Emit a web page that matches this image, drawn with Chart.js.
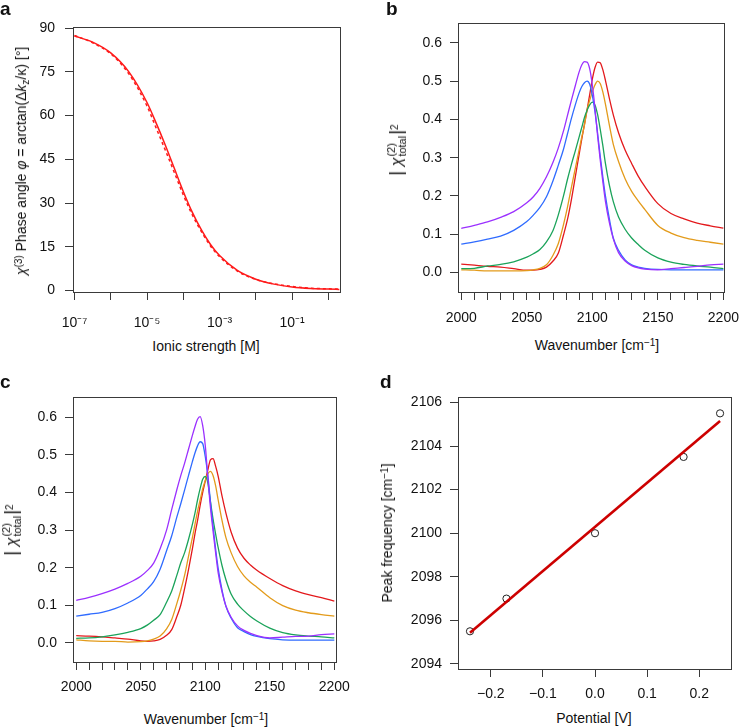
<!DOCTYPE html>
<html><head><meta charset="utf-8">
<script src="https://cdn.jsdelivr.net/npm/chart.js@4.4.1/dist/chart.umd.min.js"></script>
<style>
html,body{margin:0;padding:0;background:#fff}
#fig{position:relative;width:749px;height:727px;overflow:hidden;font-family:"Liberation Sans",Arial,Helvetica,sans-serif;color:#111}
#fig canvas{position:absolute}
.t{position:absolute;white-space:nowrap;font-size:14px;line-height:14px;transform:translate(-50%,-50%)}
.rot{transform:translate(-50%,-50%) rotate(-90deg)}
.p{position:absolute;font-weight:bold;font-size:19px;line-height:19px}
.t sup{font-size:10px;line-height:0;vertical-align:0.45em}
.t sub{font-size:10px;line-height:0;vertical-align:-0.3em}
.chi{font-size:16px}
.ss{display:inline-block;vertical-align:-0.35em;font-size:11px;line-height:11px;text-align:left;margin:0 1px}
.ss span{display:block}
.bar{font-size:19px}
</style></head><body>
<div id="fig">
<canvas id="ca" width="360" height="332" style="left:0px;top:0px"></canvas>
<canvas id="cb" width="369" height="332" style="left:380px;top:0px"></canvas>
<canvas id="cc" width="359" height="342" style="left:0px;top:360px"></canvas>
<canvas id="cd" width="369" height="349" style="left:380px;top:360px"></canvas>

<div class="p" style="left:0px;top:-1px">a</div>
<div class="p" style="left:386px;top:-1px">b</div>
<div class="p" style="left:0px;top:372px">c</div>
<div class="p" style="left:380px;top:372px">d</div>

<div class="t" style="left:206px;top:346px">Ionic strength [M]</div>
<div class="t" style="left:597px;top:345px">Wavenumber [cm<sup>−1</sup>]</div>
<div class="t" style="left:206px;top:719px">Wavenumber [cm<sup>−1</sup>]</div>
<div class="t" style="left:594px;top:718px">Potential [V]</div>

<div class="t rot" style="left:21px;top:161px"><i>χ</i><sup>(3)</sup> Phase angle <i>φ</i> = arctan(Δ<i>k</i><sub>z</sub>/κ) [°]</div>
<div class="t chi rot" style="left:397px;top:150px"><span class="bar">|</span> <i>χ</i><span class="ss"><span>(2)</span><span>total</span></span><span class="bar">|</span><sup>2</sup></div>
<div class="t chi rot" style="left:12px;top:530px"><span class="bar">|</span> <i>χ</i><span class="ss"><span>(2)</span><span>total</span></span><span class="bar">|</span><sup>2</sup></div>
<div class="t rot" style="left:387px;top:533px">Peak frequency [cm<sup>−1</sup>]</div>
</div>
<script>
// ---------- Panel a ----------
const ionicStrength = [1e-7, 3.162e-7, 1e-6, 3.162e-6, 1e-5, 1.778e-5, 3.162e-5, 5.623e-5, 1e-4, 1.778e-4, 3.162e-4, 5.623e-4, 1e-3, 3.162e-3, 1e-2, 3.162e-2, 0.1, 0.3162, 1, 2];
const phaseFit      = [87.3, 85.2, 81.5, 75.0, 64.5, 57.5, 50.0, 42.0, 34.0, 26.8, 20.8, 15.8, 12.0, 6.8, 3.9, 2.2, 1.2, 0.7, 0.5, 0.4];
const phaseMeasured = [87.5, 85.0, 81.2, 74.3, 63.3, 55.8, 48.3, 40.6, 32.8, 25.9, 20.2, 15.3, 11.6, 6.6, 3.8, 2.3, 1.4, 0.8, 0.6, 0.5];
const ionicTicks = [1e-7, 1e-6, 1e-5, 1e-4, 1e-3, 1e-2, 1e-1, 1];
const ionicTickLabels = ['10⁻⁷', '', '10⁻⁵', '', '10⁻³', '', '10⁻¹', ''];
const phaseTicks = [0, 15, 30, 45, 60, 75, 90];

// ---------- Panels b and c ----------
const wavenumber = [2000,2010,2020,2030,2040,2050,2055,2060,2065,2070,2074,2078,2081,2084,2087,2090,2092,2094,2096,2098,2100,2102,2104,2106,2108,2110,2113,2116,2120,2125,2130,2135,2140,2150,2160,2170,2180,2190,2200];
const bPurple = [.115,.123,.132,.144,.159,.182,.198,.220,.250,.288,.325,.370,.410,.450,.488,.525,.543,.551,.550,.532,.490,.430,.358,.295,.238,.186,.130,.088,.052,.030,.018,.012,.009,.007,.010,.013,.016,.020,.022];
const bBlue   = [.074,.080,.087,.095,.110,.133,.150,.170,.198,.240,.280,.322,.362,.402,.438,.470,.486,.496,.500,.492,.463,.420,.365,.305,.250,.200,.140,.090,.058,.033,.020,.014,.011,.008,.007,.007,.007,.007,.007];
const bGreen  = [.010,.011,.017,.021,.028,.040,.049,.060,.080,.110,.150,.200,.243,.282,.318,.355,.380,.405,.424,.438,.445,.438,.413,.375,.332,.285,.228,.185,.145,.113,.090,.073,.058,.038,.027,.021,.017,.014,.010];
const bOrange = [.007,.006,.004,.004,.004,.005,.007,.011,.020,.045,.075,.125,.170,.222,.272,.322,.355,.385,.425,.450,.472,.490,.500,.494,.472,.440,.385,.335,.290,.245,.212,.187,.165,.123,.103,.091,.084,.079,.074];
const bRed    = [.022,.019,.016,.014,.010,.006,.006,.008,.014,.030,.050,.098,.138,.190,.250,.310,.350,.388,.425,.465,.505,.535,.550,.548,.530,.502,.455,.412,.365,.320,.285,.252,.225,.180,.154,.140,.129,.122,.116];

const cPurple = [.113,.121,.131,.143,.158,.177,.192,.212,.250,.300,.355,.408,.445,.478,.515,.552,.575,.595,.602,.578,.525,.440,.360,.298,.240,.186,.135,.098,.068,.045,.033,.025,.019,.013,.015,.017,.018,.022,.024];
const cBlue   = [.071,.076,.081,.091,.106,.126,.143,.163,.196,.245,.285,.335,.370,.407,.445,.482,.505,.524,.535,.530,.495,.445,.375,.310,.250,.198,.140,.097,.066,.040,.030,.022,.017,.011,.008,.007,.007,.007,.007];
const cGreen  = [.012,.013,.016,.021,.028,.038,.047,.060,.075,.108,.138,.180,.213,.240,.275,.315,.345,.380,.410,.435,.443,.425,.376,.330,.290,.253,.205,.168,.130,.103,.085,.070,.058,.039,.027,.021,.018,.016,.013];
const cOrange = [.008,.005,.004,.004,.002,.003,.005,.010,.018,.037,.062,.105,.140,.180,.230,.280,.315,.350,.380,.410,.432,.450,.456,.445,.418,.380,.325,.280,.240,.203,.178,.161,.148,.120,.099,.087,.080,.075,.071];
const cRed    = [.019,.018,.016,.013,.010,.005,.004,.005,.009,.020,.035,.070,.100,.145,.195,.250,.290,.325,.365,.400,.430,.460,.487,.490,.470,.443,.390,.345,.295,.252,.225,.207,.193,.171,.152,.138,.128,.120,.111];
const wnTicks = [2000,2010,2020,2030,2040,2050,2060,2070,2080,2090,2100,2110,2120,2130,2140,2150,2160,2170,2180,2190,2200];
const wnTickLabels = ['2000','','','','','2050','','','','','2100','','','','','2150','','','','','2200'];
const chiTicks = [0, 0.1, 0.2, 0.3, 0.4, 0.5, 0.6];
const chiTickLabels = ['0.0','0.1','0.2','0.3','0.4','0.5','0.6'];

// ---------- Panel d ----------
const potential = [-0.24, -0.17, 0.0, 0.17, 0.24];
const peakFreq  = [2095.5, 2097.0, 2100.0, 2103.5, 2105.5];
const fitPotential = [-0.24, 0.24];
const fitFreq      = [2095.43, 2105.15];
const potTicks = [-0.2, -0.1, 0.0, 0.1, 0.2];
const potTickLabels = ['−0.2', '−0.1', '0.0', '0.1', '0.2'];
const freqTicks = [2094, 2096, 2098, 2100, 2102, 2104, 2106];

// ---------- style ----------
const FRAME = '#3a3a3a';
const TXT = '#111';
const COL = {purple:'#9B30FF', blue:'#2F6BFF', green:'#1BA35A', orange:'#E39B1B', red:'#E3191C'};
Chart.defaults.font.family = '"Liberation Sans", Arial, Helvetica, sans-serif';
Chart.defaults.font.size = 14;
Chart.defaults.color = TXT;

const framePlugin = {
  id: 'frame',
  afterDraw(chart) {
    const a = chart.chartArea, ctx = chart.ctx;
    ctx.save();
    ctx.strokeStyle = FRAME; ctx.lineWidth = 1;
    ctx.strokeRect(Math.round(a.left) + 0.5, Math.round(a.top) + 0.5, Math.round(a.right - a.left), Math.round(a.bottom - a.top));
    ctx.restore();
  }
};

function pts(xs, ys) { return xs.map((x, i) => ({x: x, y: ys[i]})); }

function axis(type, min, max, tickVals, tickLabels, size, pad, isY) {
  return {
    type: type, min: min, max: max,
    afterBuildTicks: s => { s.ticks = tickVals.map(v => ({value: v})); },
    afterFit: s => { if (isY) s.width = size; else s.height = size; },
    grid: {display: true, drawOnChartArea: false, drawTicks: true, tickLength: 8, color: FRAME, lineWidth: 1},
    border: {display: false},
    ticks: {color: TXT, font: {size: 14}, padding: pad, autoSkip: false, maxRotation: 0, minRotation: 0,
            callback: (v, i) => tickLabels[i]}
  };
}

function make(id, datasets, xAxis, yAxis, padTop, padRight) {
  return new Chart(document.getElementById(id), {
    type: 'line',
    data: {datasets: datasets},
    options: {
      responsive: false, animation: false, devicePixelRatio: 1,
      layout: {padding: {top: padTop, right: padRight, left: 0, bottom: 0}, autoPadding: false},
      plugins: {legend: {display: false}, tooltip: {enabled: false}},
      scales: {x: xAxis, y: yAxis}
    },
    plugins: [framePlugin]
  });
}

function spec(xs, ys, color, width) {
  return {data: pts(xs, ys), borderColor: color, borderWidth: width, pointRadius: 0,
          fill: false, cubicInterpolationMode: 'monotone'};
}

// Panel a
make('ca', [
  Object.assign(spec(ionicStrength, phaseMeasured, '#FF1A1A', 1.5), {borderDash: [3, 3]}),
  spec(ionicStrength, phaseFit, '#FF1A1A', 1.5)
],
  axis('logarithmic', Math.pow(10, -7.04), Math.pow(10, 0.32), ionicTicks, ionicTickLabels, 40, 15, false),
  axis('linear', -0.5, 90.4, phaseTicks, phaseTicks.map(String), 73, 10, true),
  27, 20);

// Panel b
make('cb', [
  spec(wavenumber, bPurple, COL.purple, 1.3),
  spec(wavenumber, bBlue, COL.blue, 1.3),
  spec(wavenumber, bGreen, COL.green, 1.3),
  spec(wavenumber, bOrange, COL.orange, 1.3),
  spec(wavenumber, bRed, COL.red, 1.3)
],
  axis('linear', 1997.5, 2200.5, wnTicks, wnTickLabels, 40, 10, false),
  axis('linear', -0.051, 0.652, chiTicks, chiTickLabels, 78, 8, true),
  23, 20);

// Panel c
make('cc', [
  spec(wavenumber, cPurple, COL.purple, 1.3),
  spec(wavenumber, cBlue, COL.blue, 1.3),
  spec(wavenumber, cGreen, COL.green, 1.3),
  spec(wavenumber, cOrange, COL.orange, 1.3),
  spec(wavenumber, cRed, COL.red, 1.3)
],
  axis('linear', 1997.5, 2201, wnTicks, wnTickLabels, 40, 9, false),
  axis('linear', -0.051, 0.654, chiTicks, chiTickLabels, 73, 8, true),
  37, 20);

// Panel d
make('cd', [
  {data: pts(fitPotential, fitFreq), borderColor: '#CD0000', borderWidth: 2.6, pointRadius: 0, fill: false},
  {data: pts(potential, peakFreq), showLine: false, pointRadius: 3.6, pointStyle: 'circle',
   pointBorderColor: '#222', pointBackgroundColor: 'rgba(0,0,0,0)', pointBorderWidth: 1, borderColor: '#222'}
],
  axis('linear', -0.263, 0.261, potTicks, potTickLabels, 40, 9, false),
  axis('linear', 2093.77, 2106.25, freqTicks, freqTicks.map(String), 78, 8, true),
  37, 18);
</script>
</body></html>
